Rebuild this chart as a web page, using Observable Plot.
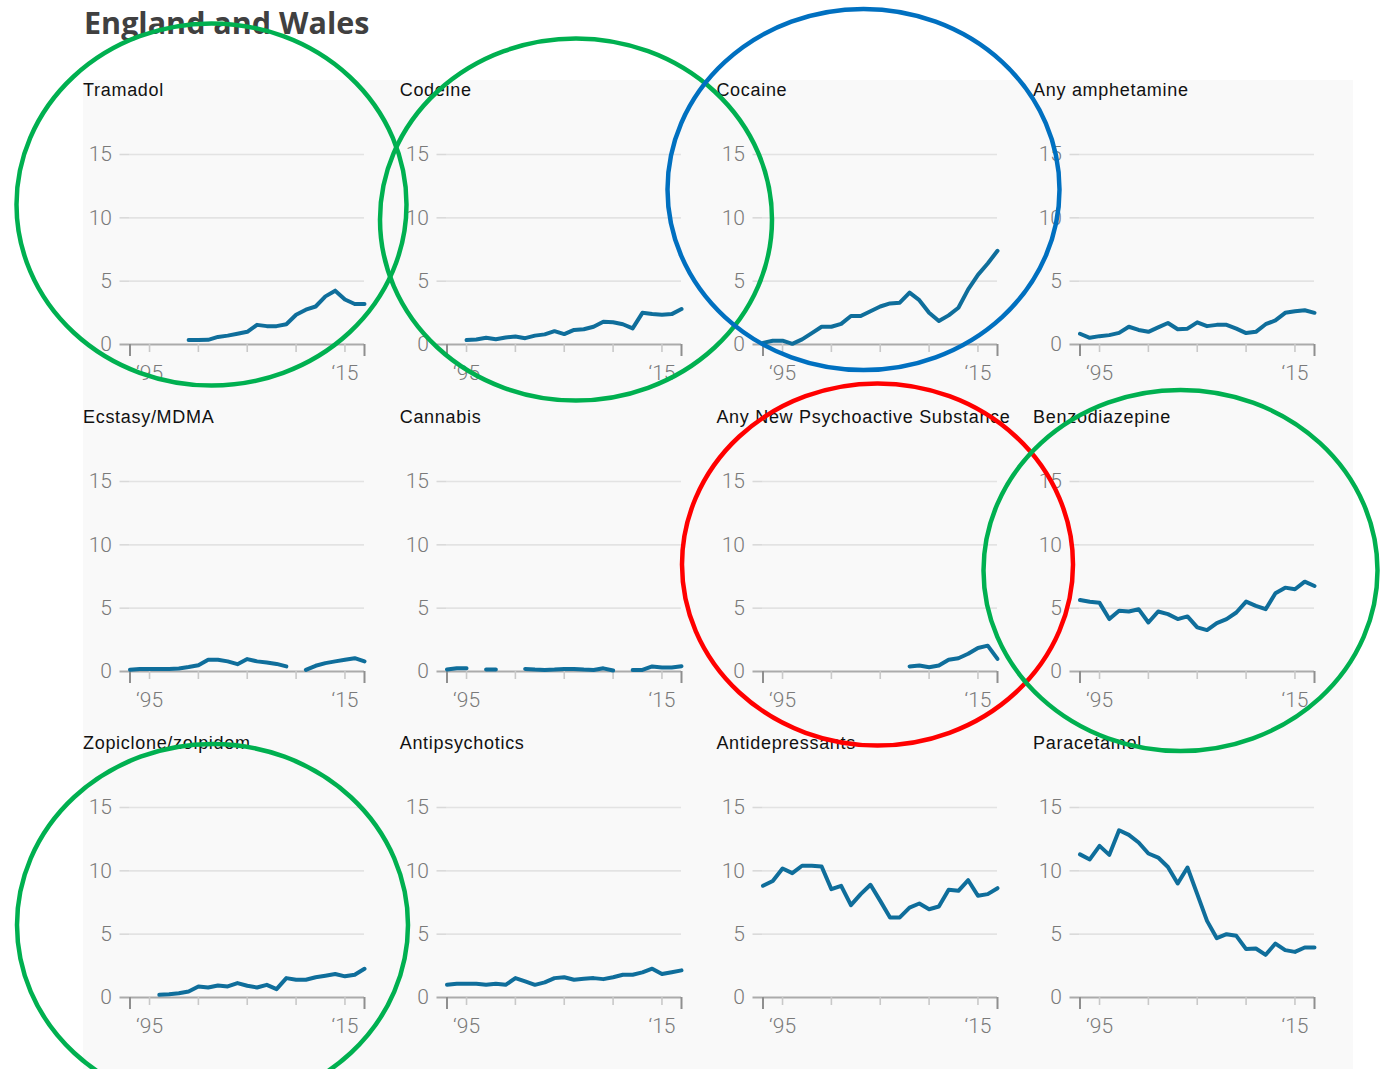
<!DOCTYPE html>
<html>
<head>
<meta charset="utf-8">
<script src="https://cdn.jsdelivr.net/npm/d3@7"></script>
<script src="https://cdn.jsdelivr.net/npm/@observablehq/plot@0.6"></script>
<style>
  body { margin: 0; background: #fff; }
  #page { position: relative; width: 1388px; height: 1069px; overflow: hidden; background: #fff; }
  #bg { position: absolute; left: 83px; top: 80px; width: 1270px; height: 989px; background: #f9f9f9; }
  #title { position: absolute; left: 84px; top: 4px; font: 700 30.5px "Open Sans", sans-serif; line-height: 36px; color: #404040; white-space: nowrap; }
  .panel { position: absolute; width: 300px; height: 310px; }
  .ptitle { position: absolute; left: 0; top: 1px; font: 18px "Liberation Sans", Arial, sans-serif; letter-spacing: 0.7px; line-height: 18px; color: #111; white-space: nowrap; }
  .panel svg { position: absolute; left: 0; top: 20px; }
  #overlay { position: absolute; left: 0; top: 0; pointer-events: none; }
</style>
</head>
<body>
<div id="page">
  <div id="bg"></div>
  <div id="title">England and Wales</div>
</div>
<script>
// ---- data ----
const years = [1993, 1994, 1995, 1996, 1997, 1998, 1999, 2000, 2001, 2002, 2003, 2004, 2005,
               2006, 2007, 2008, 2009, 2010, 2011, 2012, 2013, 2014, 2015, 2016, 2017];

const drugs = ["Tramadol", "Codeine", "Cocaine", "Any amphetamine",
               "Ecstasy/MDMA", "Cannabis", "Any New Psychoactive Substance", "Benzodiazepine",
               "Zopiclone/zolpidem", "Antipsychotics", "Antidepressants", "Paracetamol"];

const tramadol = [null, null, null, null, null, null, 0.35, 0.35, 0.37, 0.6, 0.7, 0.85, 1.0,
                  1.55, 1.45, 1.45, 1.6, 2.35, 2.75, 3.0, 3.8, 4.25, 3.55, 3.2, 3.2];
const codeine = [null, null, 0.35, 0.4, 0.53, 0.42, 0.55, 0.63, 0.5, 0.7, 0.8, 1.05, 0.82,
                 1.15, 1.2, 1.4, 1.8, 1.75, 1.6, 1.27, 2.5, 2.4, 2.35, 2.4, 2.8];
const cocaine = [0.13, 0.3, 0.3, 0.05, 0.4, 0.9, 1.4, 1.4, 1.63, 2.25, 2.25, 2.63, 3.0,
                 3.24, 3.3, 4.1, 3.5, 2.5, 1.85, 2.3, 2.9, 4.35, 5.5, 6.4, 7.4];
const amphetamine = [0.85, 0.53, 0.66, 0.74, 0.92, 1.4, 1.15, 1.0, 1.35, 1.7, 1.2, 1.25, 1.75,
                     1.45, 1.55, 1.55, 1.25, 0.9, 1.0, 1.6, 1.9, 2.5, 2.63, 2.7, 2.5];
const ecstasy = [0.13, 0.2, 0.2, 0.2, 0.2, 0.24, 0.35, 0.5, 0.93, 0.93, 0.8, 0.58, 0.98,
                 0.8, 0.71, 0.6, 0.4, null, 0.13, 0.45, 0.66, 0.8, 0.93, 1.05, 0.8];
const cannabis = [0.15, 0.25, 0.25, null, 0.15, 0.15, null, null, 0.2, 0.15, 0.12, 0.15, 0.2,
                  0.2, 0.15, 0.12, 0.25, 0.08, null, 0.12, 0.12, 0.4, 0.32, 0.32, 0.42];
const nps = [null, null, null, null, null, null, null, null, null, null, null, null, null,
             null, null, 0.4, 0.47, 0.34, 0.47, 0.92, 1.05, 1.4, 1.86, 2.04, 1.0];
const benzodiazepine = [5.65, 5.5, 5.42, 4.14, 4.8, 4.74, 4.92, 3.87, 4.74, 4.53, 4.14, 4.35, 3.48,
                        3.27, 3.82, 4.14, 4.66, 5.52, 5.18, 4.92, 6.18, 6.62, 6.49, 7.09, 6.75];
const zopiclone = [null, null, null, 0.21, 0.26, 0.34, 0.48, 0.87, 0.79, 0.95, 0.87, 1.14, 0.93,
                   0.79, 1.0, 0.66, 1.53, 1.4, 1.4, 1.6, 1.72, 1.85, 1.67, 1.8, 2.27];
const antipsychotics = [1.0, 1.08, 1.08, 1.08, 1.0, 1.08, 1.0, 1.53, 1.27, 1.0, 1.19, 1.53, 1.6,
                        1.4, 1.48, 1.53, 1.45, 1.6, 1.8, 1.8, 1.98, 2.27, 1.85, 2.0, 2.14];
const antidepressants = [8.82, 9.2, 10.18, 9.82, 10.4, 10.4, 10.34, 8.55, 8.82, 7.29, 8.16, 8.9, 7.63,
                         6.32, 6.32, 7.1, 7.42, 6.97, 7.18, 8.5, 8.42, 9.26, 8.03, 8.16, 8.63];
const paracetamol = [11.3, 10.9, 11.97, 11.26, 13.2, 12.84, 12.24, 11.37, 11.05, 10.3, 9.0, 10.26, 8.16,
                     6.05, 4.68, 5.0, 4.87, 3.82, 3.87, 3.37, 4.26, 3.74, 3.6, 3.95, 3.95];

const seriesList = [tramadol, codeine, cocaine, amphetamine,
                    ecstasy, cannabis, nps, benzodiazepine,
                    zopiclone, antipsychotics, antidepressants, paracetamol];

const yTicks = [5, 10, 15];
const xTicks = [1995, 2000, 2005, 2010, 2015];
const xTickLabels = ["\u201895", "", "", "", "\u201815"];
const xEnds = [1993, 2017];

// ---- drawing ----
const page = document.getElementById("page");
const labelFor = new Map(xTicks.map((t, i) => [t, xTickLabels[i]]));
const lineColor = "#0f6e9b";
const tickFont = "Roboto, 'DejaVu Sans', sans-serif";

drugs.forEach((name, k) => {
  const col = k % 4, row = Math.floor(k / 4);
  const panel = document.createElement("div");
  panel.className = "panel";
  panel.style.left = (83 + col * 316.7) + "px";
  panel.style.top = (80 + row * 326.5) + "px";
  const t = document.createElement("div");
  t.className = "ptitle";
  t.textContent = name;
  panel.appendChild(t);

  const rows = years.map((y, i) => ({year: y, value: seriesList[k][i]}));

  const chart = Plot.plot({
    width: 300,
    height: 290,
    marginLeft: 46.5,
    marginRight: 19,
    marginTop: 54,
    marginBottom: 46,
    x: {domain: [1993, 2017]},
    y: {domain: [0, 15]},
    style: {background: "transparent", fontFamily: tickFont, overflow: "visible"},
    marks: [
      Plot.gridY(yTicks, {stroke: "#e3e3e3", strokeOpacity: 1, strokeWidth: 1.6}),
      Plot.axisY(yTicks, {tickSize: 10, tickPadding: 8, stroke: "#d9d9d9", strokeWidth: 1.6,
                          fill: "#7a7a7a", fontSize: 21, fontWeight: 300, label: null}),
      Plot.axisY([0], {tickSize: 10, tickPadding: 8, stroke: "#ababab", strokeWidth: 2,
                       fill: "#7a7a7a", fontSize: 21, fontWeight: 300, label: null}),
      Plot.ruleY([0], {stroke: "#ababab", strokeWidth: 2}),
      Plot.axisX(xTicks, {tickSize: 8, tickPadding: 13, stroke: "#c9c9c9", strokeWidth: 1.6,
                          fill: "#7a7a7a", fontSize: 21, fontWeight: 300, label: null,
                          tickFormat: d => labelFor.get(d) ?? ""}),
      Plot.axisX(xEnds, {tickSize: 12, stroke: "#8f8f8f", strokeWidth: 2, label: null,
                         tickFormat: () => ""}),
      Plot.lineY(rows, {x: "year", y: "value", stroke: lineColor, strokeWidth: 4,
                        strokeLinecap: "round", strokeLinejoin: "round"})
    ]
  });
  panel.appendChild(chart);
  page.appendChild(panel);
});

// ---- highlight ellipses (annotation overlay) ----
const highlights = [
  {cx: 211.5, cy: 204.5, rx: 195, ry: 181, color: "#00b050"},
  {cx: 576, cy: 219.5, rx: 196, ry: 181, color: "#00b050"},
  {cx: 863.5, cy: 189.5, rx: 196, ry: 180.5, color: "#0070c0"},
  {cx: 877.5, cy: 564.5, rx: 195.5, ry: 181, color: "#ff0000"},
  {cx: 1180.5, cy: 570.5, rx: 197, ry: 180.5, color: "#00b050"},
  {cx: 212.5, cy: 925, rx: 195.5, ry: 181, color: "#00b050"}
];
const overlay = d3.select(page).append("svg")
  .attr("id", "overlay")
  .attr("width", 1388).attr("height", 1069);
overlay.selectAll("ellipse").data(highlights).join("ellipse")
  .attr("cx", d => d.cx).attr("cy", d => d.cy)
  .attr("rx", d => d.rx).attr("ry", d => d.ry)
  .attr("fill", "none").attr("stroke", d => d.color).attr("stroke-width", 4.5);
</script>
</body>
</html>
